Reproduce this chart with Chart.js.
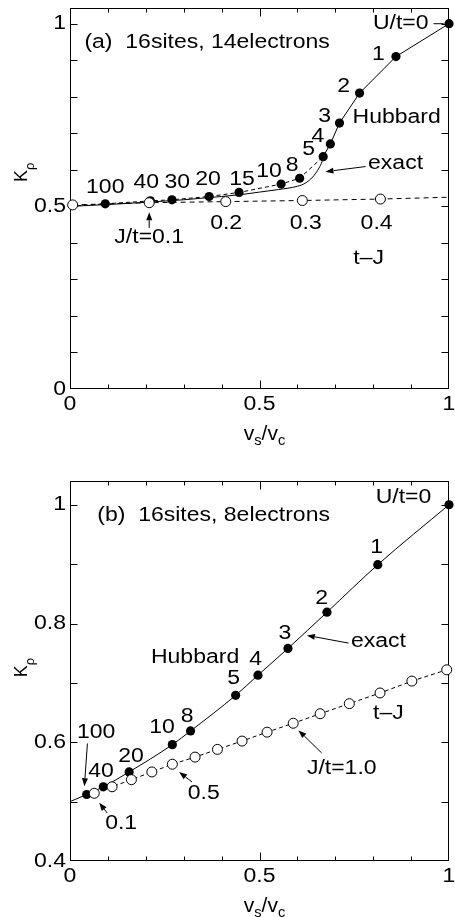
<!DOCTYPE html>
<html><head><meta charset="utf-8">
<script src="https://cdn.jsdelivr.net/npm/chart.js@4"></script>
<style>
html,body{margin:0;padding:0;background:#fff;width:455px;height:917px;overflow:hidden}
canvas{position:absolute;left:0}
#ca{top:0}
#cb{top:460px}
</style></head><body>
<canvas id="ca" width="455" height="458"></canvas>
<canvas id="cb" width="455" height="457"></canvas>
<script>
// ---------- Panel (a): 16 sites, 14 electrons ----------
const hubAX = [0, 0.093, 0.212, 0.269, 0.367, 0.446, 0.557, 0.606, 0.668, 0.687, 0.711, 0.764, 0.860, 1.0];
const hubAY = [0.5, 0.507, 0.515, 0.518, 0.527, 0.538, 0.561, 0.577, 0.636, 0.671, 0.728, 0.810, 0.910, 1.0];
const hubAU = ['', '100', '40', '30', '20', '15', '10', '8', '5', '4', '3', '2', '1', 'U/t=0'];
const exAX = [0, 0.1, 0.2, 0.3, 0.4, 0.45, 0.5, 0.55, 0.6, 0.62, 0.64, 0.657, 0.665, 0.668];
const exAY = [0.5, 0.505, 0.511, 0.518, 0.527, 0.532, 0.539, 0.546, 0.555, 0.563, 0.580, 0.605, 0.623, 0.636];
const tjAX = [0.007, 0.209, 0.411, 0.613, 0.819, 1.0];
const tjAY = [0.504, 0.510, 0.513, 0.516, 0.520, 0.525];
const tjAJ = ['', '0.1', '0.2', '0.3', '0.4', ''];
const yTicksA = [0, 0.5, 1];

// ---------- Panel (b): 16 sites, 8 electrons ----------
const hubBX = [0, 0.044, 0.088, 0.156, 0.270, 0.318, 0.437, 0.496, 0.575, 0.678, 0.812, 1.0];
const hubBY = [0.5, 0.512, 0.525, 0.550, 0.596, 0.619, 0.679, 0.713, 0.758, 0.819, 0.899, 1.0];
const hubBU = ['', '100', '40', '20', '10', '8', '5', '4', '3', '2', '1', 'U/t=0'];
const tjBX = [0.064, 0.111, 0.162, 0.216, 0.270, 0.330, 0.389, 0.454, 0.520, 0.589, 0.660, 0.737, 0.818, 0.902, 0.994];
const tjBY = [0.514, 0.525, 0.537, 0.550, 0.563, 0.575, 0.588, 0.602, 0.617, 0.632, 0.648, 0.665, 0.683, 0.703, 0.722];
const yTicksB = [0.4, 0.6, 0.8, 1];

const xTicks = [0, 0.5, 1];

const FONT = '"Liberation Sans", Arial, Helvetica, sans-serif';
const STRETCH = 1.15;
const zip = (xs, ys) => xs.map((x, i) => ({x, y: ys[i]}));
const fmt = v => String(+v.toFixed(1));

// Annotation layouts (text positions in data coordinates)
const annA = {
  texts: [
    {t: '(a)  16sites, 14electrons', x: 0.038, y: 0.948, align: 'left'},
    {t: 'U/t=0', x: 0.946, y: 1.0, align: 'right'},
    {t: '1', x: 0.814, y: 0.915}, {t: '2', x: 0.722, y: 0.827},
    {t: '3', x: 0.672, y: 0.745}, {t: '4', x: 0.654, y: 0.690},
    {t: '5', x: 0.630, y: 0.655}, {t: '8', x: 0.586, y: 0.611},
    {t: '10', x: 0.525, y: 0.595}, {t: '15', x: 0.454, y: 0.573},
    {t: '20', x: 0.364, y: 0.573}, {t: '30', x: 0.283, y: 0.564},
    {t: '40', x: 0.201, y: 0.564}, {t: '100', x: 0.093, y: 0.553},
    {t: 'Hubbard', x: 0.862, y: 0.742},
    {t: 'exact', x: 0.859, y: 0.616},
    {t: 'J/t=0.1', x: 0.209, y: 0.414},
    {t: '0.2', x: 0.412, y: 0.452}, {t: '0.3', x: 0.622, y: 0.452}, {t: '0.4', x: 0.809, y: 0.452},
    {t: 't\u2013J', x: 0.788, y: 0.356}
  ],
  arrows: [
    {x1: 0.780, y1: 0.609, x2: 0.674, y2: 0.595},
    {x1: 0.209, y1: 0.441, x2: 0.209, y2: 0.484}
  ],
  lines: [{x1: 0.959, y1: 1.0, x2: 0.986, y2: 1.0}],
  yTitleY: 0.593
};
const annB = {
  texts: [
    {t: '(b)  16sites, 8electrons', x: 0.072, y: 0.982, align: 'left'},
    {t: 'U/t=0', x: 0.880, y: 1.013},
    {t: '1', x: 0.809, y: 0.928}, {t: '2', x: 0.664, y: 0.842},
    {t: '3', x: 0.567, y: 0.784}, {t: '4', x: 0.490, y: 0.740},
    {t: '5', x: 0.432, y: 0.708}, {t: '8', x: 0.309, y: 0.644},
    {t: '10', x: 0.243, y: 0.625}, {t: '20', x: 0.161, y: 0.576},
    {t: '40', x: 0.082, y: 0.550}, {t: '100', x: 0.069, y: 0.617},
    {t: 'Hubbard', x: 0.330, y: 0.743},
    {t: 'exact', x: 0.814, y: 0.770},
    {t: 't\u2013J', x: 0.840, y: 0.649},
    {t: 'J/t=1.0', x: 0.717, y: 0.556},
    {t: '0.5', x: 0.353, y: 0.514},
    {t: '0.1', x: 0.135, y: 0.464}
  ],
  arrows: [
    {x1: 0.046, y1: 0.598, x2: 0.038, y2: 0.526},
    {x1: 0.735, y1: 0.767, x2: 0.625, y2: 0.780},
    {x1: 0.664, y1: 0.582, x2: 0.603, y2: 0.620},
    {x1: 0.322, y1: 0.533, x2: 0.288, y2: 0.550},
    {x1: 0.098, y1: 0.481, x2: 0.077, y2: 0.498}
  ],
  lines: [],
  yTitleY: 0.726
};

function sText(ctx, t, x, y, align, sx) {
  ctx.save();
  ctx.translate(x, y);
  ctx.scale(sx, 1);
  ctx.textAlign = align;
  ctx.fillText(t, 0, 0);
  ctx.restore();
}

const figPlugin = {
  id: 'fig',
  beforeDatasetsDraw(chart, args, o) {
    const {ctx, chartArea: a, scales} = chart;
    ctx.save();
    ctx.strokeStyle = '#000';
    ctx.lineWidth = 1;
    const L = Math.round(a.left) + 0.5, R = Math.round(a.right) - 0.5;
    const T = Math.round(a.top) + 0.5, B = Math.round(a.bottom) - 0.5;
    ctx.strokeRect(L, T, R - L, B - T);
    ctx.beginPath();
    for (let i = 1; i < 10; i++) {
      const v = i / 10;
      const px = Math.round(scales.x.getPixelForValue(v)) + 0.5;
      const len = (i === 5) ? 8 : 4;
      ctx.moveTo(px, B); ctx.lineTo(px, B - len);
      ctx.moveTo(px, T); ctx.lineTo(px, T + len);
    }
    for (let i = 0; i <= 10; i++) {
      const v = i / 10;
      if (v <= scales.y.min + 1e-9 || v > scales.y.max) continue;
      const py = Math.round(scales.y.getPixelForValue(v)) + 0.5;
      ctx.moveTo(L, py); ctx.lineTo(L + 7, py);
      ctx.moveTo(R, py); ctx.lineTo(R - 7, py);
    }
    ctx.stroke();
    // tick labels
    ctx.fillStyle = '#000';
    ctx.font = '20px ' + FONT;
    ctx.textBaseline = 'middle';
    xTicks.forEach(v => sText(ctx, fmt(v), scales.x.getPixelForValue(v), a.bottom + 15, 'center', STRETCH));
    o.yTicks.forEach(v => sText(ctx, fmt(v), a.left - 4, scales.y.getPixelForValue(v), 'right', STRETCH));
    ctx.restore();
  },
  afterDatasetsDraw(chart, args, o) {
    const {ctx, chartArea: a, scales} = chart;
    const X = v => scales.x.getPixelForValue(v), Y = v => scales.y.getPixelForValue(v);
    const ann = o.ann;
    ctx.save();
    ctx.fillStyle = '#000'; ctx.strokeStyle = '#000'; ctx.lineWidth = 1;
    ctx.font = '20px ' + FONT;
    ctx.textBaseline = 'middle';
    ann.texts.forEach(t => sText(ctx, t.t, X(t.x), Y(t.y), t.align || 'center', STRETCH));
    ann.lines.forEach(l => {
      ctx.beginPath(); ctx.moveTo(X(l.x1), Y(l.y1)); ctx.lineTo(X(l.x2), Y(l.y2)); ctx.stroke();
    });
    ann.arrows.forEach(r => {
      const x1 = X(r.x1), y1 = Y(r.y1), x2 = X(r.x2), y2 = Y(r.y2);
      const ang = Math.atan2(y2 - y1, x2 - x1);
      const hl = 8, hw = 3;
      const bx = x2 - hl * Math.cos(ang), by = y2 - hl * Math.sin(ang);
      ctx.beginPath(); ctx.moveTo(x1, y1); ctx.lineTo(bx, by); ctx.stroke();
      ctx.beginPath();
      ctx.moveTo(x2, y2);
      ctx.lineTo(bx + hw * Math.sin(ang), by - hw * Math.cos(ang));
      ctx.lineTo(bx - hw * Math.sin(ang), by + hw * Math.cos(ang));
      ctx.closePath(); ctx.fill();
    });
    // x-axis title v_s/v_c
    const parts = [['v', 20, 0], ['s', 14, 5], ['/', 20, 0], ['v', 20, 0], ['c', 14, 5]];
    const sx = 1.05;
    let w = 0;
    parts.forEach(p => { ctx.font = p[1] + 'px ' + FONT; w += ctx.measureText(p[0]).width * sx; });
    let cx = (a.left + a.right) / 2 + 5 - w / 2;
    const base = a.bottom + 51;
    ctx.textBaseline = 'alphabetic';
    parts.forEach(p => {
      ctx.font = p[1] + 'px ' + FONT;
      sText(ctx, p[0], cx, base + p[2], 'left', sx);
      cx += ctx.measureText(p[0]).width * sx;
    });
    // y-axis title K_rho
    ctx.save();
    ctx.translate(27, Y(ann.yTitleY));
    ctx.rotate(-Math.PI / 2);
    ctx.font = '18px ' + FONT;
    const wk = ctx.measureText('K').width;
    ctx.font = '13px ' + FONT;
    const wr = ctx.measureText('\u03c1').width;
    const s = -(wk + wr) / 2;
    ctx.font = '18px ' + FONT;
    ctx.fillText('K', s, 0);
    ctx.font = '13px ' + FONT;
    ctx.fillText('\u03c1', s + wk, 7);
    ctx.restore();
    ctx.restore();
  }
};

function makeChart(id, cfg) {
  const H = document.getElementById(id).height;
  return new Chart(document.getElementById(id), {
    type: 'line',
    data: {datasets: cfg.datasets},
    plugins: [figPlugin],
    options: {
      responsive: false, animation: false, events: [],
      layout: {padding: {top: cfg.top, right: 4, left: 0, bottom: 0}},
      plugins: {legend: {display: false}, tooltip: {enabled: false}, fig: {ann: cfg.ann, yTicks: cfg.yTicks}},
      scales: {
        x: {
          type: 'linear', min: 0, max: 1,
          grid: {display: false, drawTicks: false}, border: {display: false},
          ticks: {display: false, stepSize: 0.1},
          afterFit: s => { s.height = H - cfg.bottom; }
        },
        y: {
          type: 'linear', min: cfg.ymin, max: cfg.ymax,
          grid: {display: false, drawTicks: false}, border: {display: false},
          ticks: {display: false, stepSize: 0.1},
          afterFit: s => { s.width = 70; }
        }
      }
    }
  });
}

const openPt = {pointStyle: 'circle', pointBackgroundColor: '#fff', pointBorderColor: '#000', pointBorderWidth: 1, pointRadius: 5};
const fillPt = {pointStyle: 'circle', pointBackgroundColor: '#000', pointBorderColor: '#000', pointBorderWidth: 0, pointRadius: 4.6};

makeChart('ca', {
  top: 8, bottom: 389, ymin: 0, ymax: 1.043, yTicks: yTicksA, ann: annA,
  datasets: [
    Object.assign({label: 't-J', data: zip(tjAX, tjAY), borderColor: '#000', borderWidth: 1,
      borderDash: [5, 4], clip: false}, openPt,
      {pointRadius: tjAJ.map((j, i) => i === tjAX.length - 1 ? 0 : 5)}),
    Object.assign({label: 'Hubbard', data: zip(hubAX, hubAY), borderColor: '#000', borderWidth: 1, clip: false,
      segment: {borderDash: c => c.p1.parsed.x <= 0.6685 ? [4, 3] : undefined}}, fillPt,
      {pointRadius: hubAU.map(u => u === '' ? 0 : 4.6)}),
    {label: 'exact', data: zip(exAX, exAY), borderColor: '#000', borderWidth: 1, pointRadius: 0,
      cubicInterpolationMode: 'monotone', clip: false}
  ]
});

makeChart('cb', {
  top: 21, bottom: 401, ymin: 0.4, ymax: 1.04, yTicks: yTicksB, ann: annB,
  datasets: [
    Object.assign({label: 't-J', data: zip(tjBX, tjBY), borderColor: '#000', borderWidth: 1,
      borderDash: [4, 3], clip: false}, openPt),
    Object.assign({label: 'Hubbard', data: zip(hubBX, hubBY), borderColor: '#000', borderWidth: 1, clip: false,
      cubicInterpolationMode: 'monotone'}, fillPt,
      {pointRadius: hubBU.map(u => u === '' ? 0 : 4.6)})
  ]
});
</script>
</body></html>
